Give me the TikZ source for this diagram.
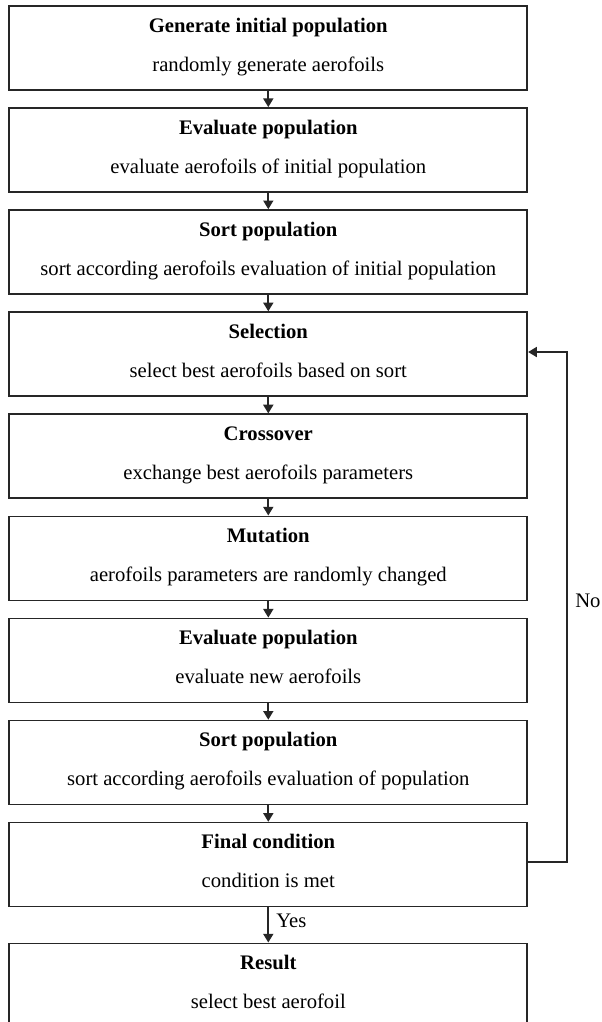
\documentclass[tikz,border=0pt]{standalone}
\usepackage{fontspec}
\setmainfont{Liberation Serif}
\usetikzlibrary{arrows.meta}
\begin{document}
\begin{tikzpicture}[x=0.75pt,y=-0.75pt,
  stepbox/.style={draw=black!85,line width=1.25pt,minimum width=388.5pt,minimum height=63pt,inner sep=0pt,anchor=north},
  ttl/.style={font=\fontsize{15.5}{17}\selectfont\bfseries,inner sep=0pt,anchor=base},
  sub/.style={font=\fontsize{15.5}{17}\selectfont,inner sep=0pt,anchor=base},
  arr/.style={draw=black!85,line width=1.25pt,-{Triangle[length=6.5pt,width=7.5pt]}}]
\clip (0,0) rectangle (601,1022);
\fill[white] (0,0) rectangle (601,1022);
\foreach \i/\top/\t/\s in {
 1/5/Generate initial population/randomly generate aerofoils,
 2/107.1/Evaluate population/evaluate aerofoils of initial population,
 3/209.2/Sort population/sort according aerofoils evaluation of initial population,
 4/311.3/Selection/select best aerofoils based on sort,
 5/413.4/Crossover/exchange best aerofoils parameters,
 6/515.5/Mutation/aerofoils parameters are randomly changed,
 7/617.6/Evaluate population/evaluate new aerofoils,
 8/719.7/Sort population/sort according aerofoils evaluation of population,
 9/821.8/Final condition/condition is met,
 10/942.5/Result/select best aerofoil}{
  \node[stepbox] (b\i) at (268.3,\top) {};
  \node[ttl] (t\i) at (268.3,\top+27) {\t};
  \node[sub] (s\i) at (268.3,\top+66) {\s};
}
\foreach \i [evaluate=\i as \j using int(\i+1)] in {1,...,9}{
  \draw[arr] (b\i.south) -- (b\j.north);
}
\node[sub,anchor=base west] (yes) at (276,927) {Yes};
\coordinate (c1) at (566.7,862);
\coordinate (c2) at (566.7,352);
\draw[arr] (b9.east |- c1) -- (c1) -- (c2) -- (b4.east |- c2);
\node[sub,anchor=base west] (no) at (575,607) {No};
\end{tikzpicture}
\end{document}
